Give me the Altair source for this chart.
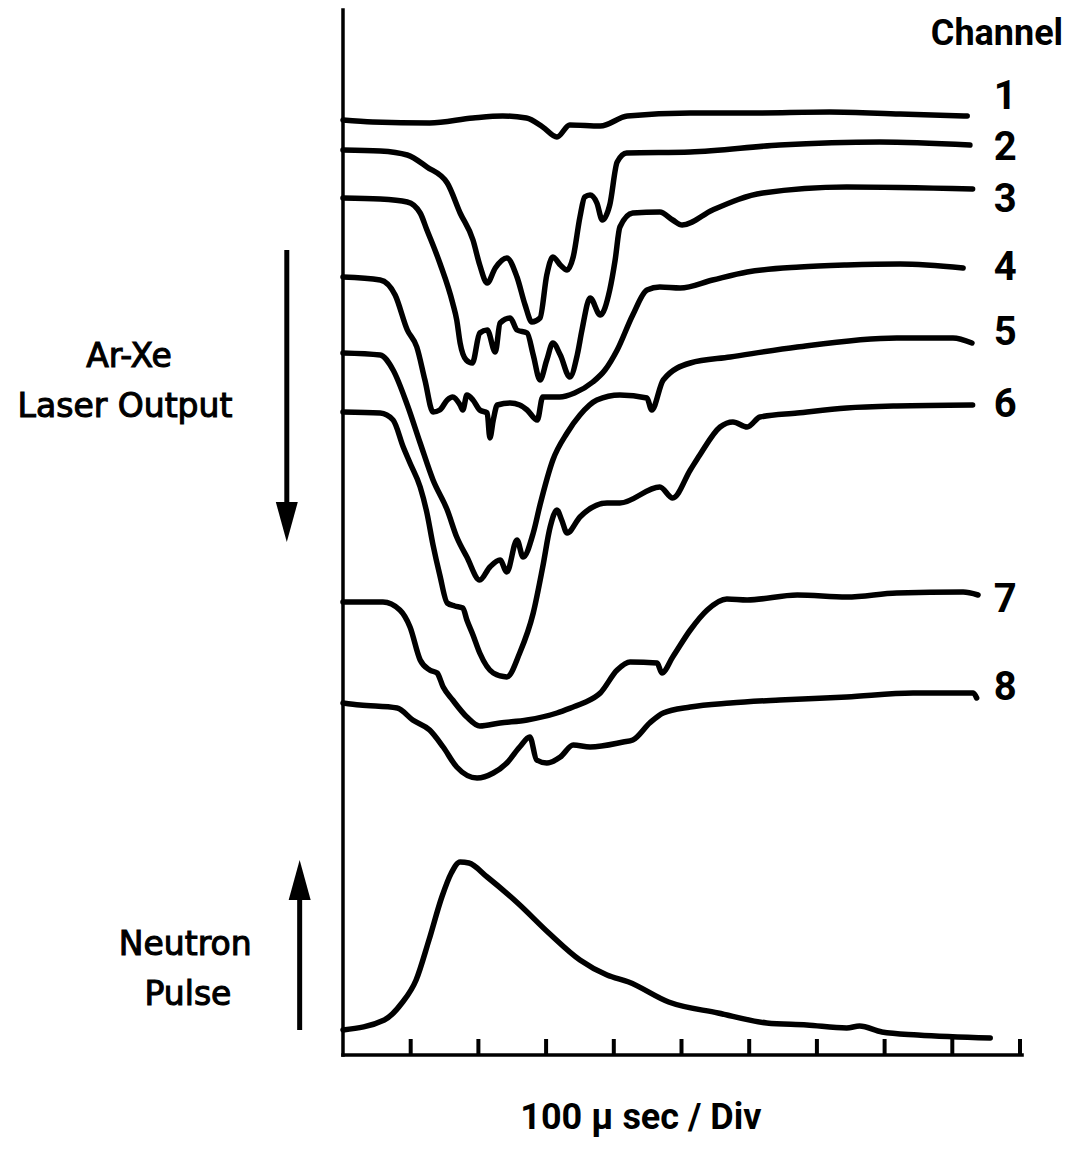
import altair as alt
import pandas as pd

# Oscilloscope traces.
# t: time in microseconds (100 us per division); v: trace level in display units above the time axis.
ch1_t = [0, 44, 128, 192, 236, 271, 295, 316, 335, 380, 420, 513, 601, 719, 823, 922]
ch1_v = [935, 933, 932, 937, 939, 937, 928, 918, 930, 929, 939, 942, 942, 943, 941, 939]

ch2_t = [0, 55, 95, 124, 154, 173, 192, 202, 213, 225, 242, 257, 269, 279, 291, 301, 310, 321, 331, 340,
         350, 357, 365, 375, 383, 394, 405, 419, 513, 645, 793, 926]
ch2_v = [905, 904, 900, 888, 872, 842, 815, 790, 772, 787, 797, 778, 750, 733, 737, 780, 798, 790, 785, 798,
         838, 858, 860, 852, 835, 850, 893, 902, 903, 910, 913, 910]

ch3_t = [0, 55, 95, 114, 124, 143, 162, 168, 173, 182, 191, 202, 213, 225, 232, 247, 257, 272, 281, 291,
         301, 310, 321, 335, 346, 353, 365, 380, 394, 402, 409, 428, 468, 487, 501, 546, 620, 744, 930]
ch3_v = [857, 856, 853, 842, 825, 792, 752, 735, 712, 695, 692, 722, 725, 703, 732, 737, 725, 722, 700, 675,
         695, 712, 700, 678, 700, 725, 757, 740, 765, 795, 828, 842, 843, 835, 830, 845, 862, 868, 866]

ch4_t = [0, 55, 77, 95, 109, 121, 133, 143, 154, 162, 173, 177, 183, 192, 202, 213, 217, 222, 228, 247,
         261, 272, 287, 295, 320, 342, 369, 387, 405, 428, 449, 468, 498, 546, 597, 675, 744, 823, 916]
ch4_v = [778, 775, 760, 725, 708, 675, 643, 645, 655, 658, 650, 645, 660, 655, 645, 642, 617, 635, 650, 652,
         650, 645, 635, 658, 658, 662, 673, 685, 705, 740, 765, 768, 767, 775, 783, 788, 790, 791, 787]

ch5_t = [0, 55, 74, 95, 114, 133, 154, 168, 183, 202, 217, 232, 242, 257, 266, 281, 291, 310, 331, 350,
         375, 409, 449, 456, 473, 513, 572, 671, 818, 901, 929]
ch5_v = [702, 700, 685, 650, 612, 575, 545, 518, 498, 475, 488, 495, 483, 515, 498, 522, 550, 595, 622, 640,
         655, 660, 657, 645, 675, 692, 698, 708, 717, 717, 712]

ch6_t = [0, 55, 74, 89, 99, 114, 124, 133, 143, 154, 165, 177, 183, 192, 202, 222, 242, 261, 281, 295,
         306, 316, 323, 331, 350, 390, 409, 468, 487, 513, 527, 557, 576, 597, 616, 671, 744, 818, 930]
ch6_v = [643, 642, 635, 608, 592, 568, 542, 510, 480, 452, 449, 447, 435, 420, 402, 382, 378, 402, 442, 488,
         528, 545, 535, 522, 538, 552, 552, 568, 557, 585, 600, 628, 633, 628, 638, 642, 647, 649, 650]

ch7_t = [0, 59, 84, 99, 114, 128, 139, 148, 162, 183, 202, 232, 272, 316, 340, 355, 380, 405, 424, 464,
         471, 487, 513, 538, 567, 597, 671, 744, 818, 916, 938]
ch7_v = [453, 453, 445, 428, 395, 385, 382, 368, 355, 338, 329, 332, 335, 342, 348, 352, 362, 385, 393, 392,
         382, 398, 425, 445, 456, 455, 460, 458, 462, 463, 460]

ch8_t = [0, 25, 80, 103, 128, 148, 168, 198, 222, 242, 261, 276, 286, 301, 321, 340, 365, 414, 428, 453,
         473, 513, 572, 645, 744, 842, 931, 936]
ch8_v = [352, 350, 347, 335, 325, 308, 288, 277, 282, 292, 308, 318, 295, 292, 298, 310, 308, 313, 315, 332,
         342, 348, 352, 355, 358, 362, 362, 357]

neutron_t = [0, 61, 87, 108, 127, 146, 160, 173, 186, 213, 258, 304, 350, 390, 422, 481, 554, 626, 685, 744,
             763, 796, 849, 956]
neutron_v = [25, 35, 52, 75, 115, 158, 182, 193, 192, 178, 152, 122, 95, 80, 73, 53, 42, 32, 30, 27,
             29, 23, 20, 17]

# Channel labels (number, level) and time-axis divisions
channel_names = ["1", "2", "3", "4", "5", "6", "7", "8"]
channel_label_v = [958, 907, 855, 787, 722, 650, 455, 367]
channel_label_t = 978
tick_t = [100, 200, 300, 400, 500, 600, 700, 800, 900, 1000]
axis_end_t = 1003
axis_top_v = 1045

series = [("1", ch1_t, ch1_v), ("2", ch2_t, ch2_v), ("3", ch3_t, ch3_v), ("4", ch4_t, ch4_v),
          ("5", ch5_t, ch5_v), ("6", ch6_t, ch6_v), ("7", ch7_t, ch7_v), ("8", ch8_t, ch8_v),
          ("neutron", neutron_t, neutron_v)]
rows = []
for name, ts, vs in series:
    for i, (t, v) in enumerate(zip(ts, vs)):
        rows.append({"series": name, "t": t, "v": v, "i": i})
traces = pd.DataFrame(rows)

xs = alt.Scale(domain=[-494.8, 1082.7], nice=False, zero=False)
ys = alt.Scale(domain=[-87, 1047], nice=False, zero=False)
X = alt.X("t:Q", scale=xs, axis=None)
Y = alt.Y("v:Q", scale=ys, axis=None)

lines = alt.Chart(traces).mark_line(
    color="black", strokeWidth=5.5, strokeCap="round", strokeJoin="round", interpolate="monotone"
).encode(x=X, y=Y, detail="series:N", order="i:Q")

frame = pd.DataFrame({"t": [0, 0], "t2": [axis_end_t, 0], "v": [0, 0], "v2": [0, axis_top_v]})
axes_rules = alt.Chart(frame).mark_rule(color="black", strokeWidth=3.5, strokeCap="square").encode(
    x=X, x2="t2:Q", y=Y, y2="v2:Q")

ticks = pd.DataFrame({"t": tick_t, "v": [0] * len(tick_t), "v2": [16] * len(tick_t)})
tick_rules = alt.Chart(ticks).mark_rule(color="black", strokeWidth=4).encode(x=X, y=Y, y2="v2:Q")

narrow = "Roboto, Liberation Sans, sans-serif"
num_df = pd.DataFrame({"t": [channel_label_t] * 8, "v": channel_label_v, "label": channel_names})
numbers = alt.Chart(num_df).mark_text(
    font=narrow, fontSize=40, fontWeight="bold", align="center", baseline="middle", color="black"
).encode(x=X, y=Y, text="label:N")

head_df = pd.DataFrame({"t": [966], "v": [1021], "label": ["Channel"]})
head = alt.Chart(head_df).mark_text(
    font=narrow, fontSize=36, fontWeight="bold", align="center", baseline="middle", color="black"
).encode(x=X, y=Y, text="label:N")

xlab_df = pd.DataFrame({"t": [440], "v": [-63], "label": ["100 μ sec / Div"]})
xlab = alt.Chart(xlab_df).mark_text(
    font=narrow, fontSize=36, fontWeight="bold", align="center", baseline="middle", color="black"
).encode(x=X, y=Y, text="label:N")

side_df = pd.DataFrame({
    "t": [-316, -322, -233, -229],
    "v": [698, 648, 110, 60],
    "label": ["Ar-Xe", "Laser  Output", "Neutron", "Pulse"],
})
side = alt.Chart(side_df).mark_text(
    font="DejaVu Sans", fontSize=33, align="center", baseline="middle", color="black",
    stroke="black", strokeWidth=1.1
).encode(x=X, y=Y, text="label:N")

shaft_df = pd.DataFrame({"t": [-83, -64], "v": [805, 25], "v2": [553, 158]})
shafts = alt.Chart(shaft_df).mark_rule(color="black", strokeWidth=5).encode(x=X, y=Y, y2="v2:Q")

down_df = pd.DataFrame({"t": [-83], "v": [533]})
down_head = alt.Chart(down_df).mark_point(
    shape="M-0.55,-1L0.55,-1L0,1Z", size=1600, filled=True, color="black", opacity=1, strokeWidth=0
).encode(x=X, y=Y)
up_df = pd.DataFrame({"t": [-64], "v": [175]})
up_head = alt.Chart(up_df).mark_point(
    shape="M-0.55,1L0.55,1L0,-1Z", size=1600, filled=True, color="black", opacity=1, strokeWidth=0
).encode(x=X, y=Y)

chart = alt.layer(
    axes_rules, tick_rules, lines, numbers, head, xlab, side, shafts, down_head, up_head
).properties(
    width=1068, height=1134, padding=0, autosize=alt.AutoSizeParams(type="none"), background="white"
).configure_view(strokeWidth=0)

chart.save("out.html", embed_options={"renderer": "svg", "actions": False})
